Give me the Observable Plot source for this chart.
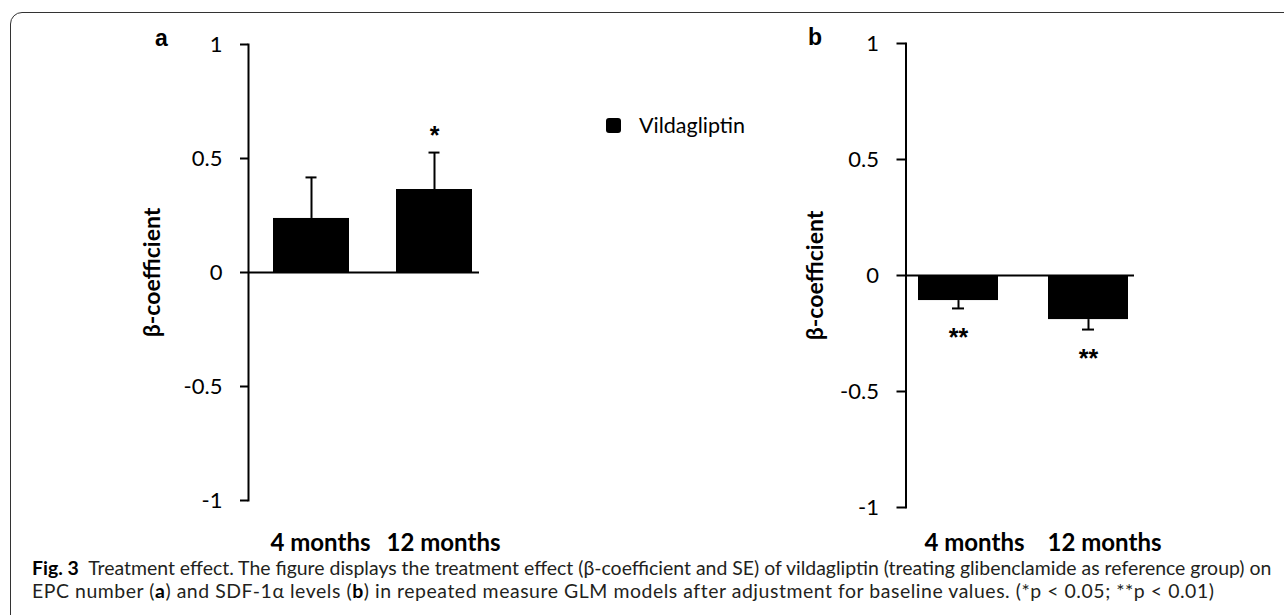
<!DOCTYPE html>
<html>
<head>
<meta charset="utf-8">
<script src="https://cdn.jsdelivr.net/npm/d3@7"></script>
<script src="https://cdn.jsdelivr.net/npm/@observablehq/plot@0.6"></script>
<style>
  html, body { margin: 0; padding: 0; background: #fff; }
  #page { position: relative; width: 1284px; height: 615px; overflow: hidden; background: #fff; }
  #border { position: absolute; left: 10px; top: 12px; width: 1300px; height: 640px;
            border: 1.4px solid #333; border-radius: 12px; box-sizing: border-box; }
  .panel { position: absolute; top: 0; }
  .letter { position: absolute; font-family: "Liberation Sans", Arial, sans-serif; font-weight: bold;
            font-size: 23px; line-height: 23px; color: #000; }
  #legend { position: absolute; left: 606px; top: 115px; height: 21px; font-family: Lato, sans-serif;
            font-size: 21.5px; line-height: 21px; color: #000; white-space: nowrap; }
  #legend .sw { position: absolute; left: 0; top: 3px; width: 15px; height: 15px; background: #000; border-radius: 3px; }
  #legend .lb { position: absolute; left: 33px; top: 0; }
  .cap { position: absolute; left: 32px; font-family: Lato, sans-serif; font-size: 16.5px; line-height: 22px;
         height: 22px; color: #231f20; white-space: nowrap; }
  .cap b { font-weight: bold; color: #000; }
</style>
</head>
<body>
<div id="page">
  <div id="border"></div>
  <div id="panelA" class="panel" style="left:0px"></div>
  <div id="panelB" class="panel" style="left:660px"></div>
  <div id="letterA" class="letter" style="left:155px; top:27px"></div>
  <div id="letterB" class="letter" style="left:808px; top:26px"></div>
  <div id="legend"><div class="sw"></div><div class="lb"></div></div>
  <div id="cap1" class="cap" style="top:557px"></div>
  <div id="cap2" class="cap" style="top:580px"></div>
</div>
<script>
// ---- data ----
const categories = ["4 months", "12 months"];
const epcBeta = [0.237, 0.364];      // panel a: EPC number
const epcSE   = [0.18, 0.162];
const epcSig  = ["", "*"];
const sdfBeta = [-0.108, -0.19];     // panel b: SDF-1α levels
const sdfSE   = [0.034, 0.043];
const sdfSig  = ["**", "**"];
const yTicks  = [-1, -0.5, 0, 0.5, 1];
const yDomain = [-1, 1];
const seriesName = "Vildagliptin";
const panelLetters = ["a", "b"];
const yLabel = "β-coefficient";
const captionLine1 = ["Fig. 3", "Treatment effect. The figure displays the treatment effect (β-coefficient and SE) of vildagliptin (treating glibenclamide as reference group) on"];
const captionLine2 = "EPC number (<b>a</b>) and SDF-1α levels (<b>b</b>) in repeated measure GLM models after adjustment for baseline values. (*p &lt; 0.05; **p &lt; 0.01)";

function makePanel(values, ses, sigs, cfg) {
  const rows = categories.map((c, i) => ({cat: c, value: values[i], se: ses[i], sig: sigs[i]}));
  const errEnd = d => d.value + Math.sign(d.value) * d.se;
  const starPos = d => d.value + Math.sign(d.value) * (d.se + 0.1);
  return Plot.plot({
    width: cfg.width, height: cfg.height,
    marginLeft: cfg.ml, marginRight: cfg.mr, marginTop: cfg.mt, marginBottom: cfg.mb,
    style: {fontFamily: "Lato, sans-serif", fontSize: "22px", color: "#000", background: "transparent", overflow: "visible"},
    x: {domain: categories, paddingInner: cfg.pi, paddingOuter: cfg.po, align: cfg.align, label: null},
    y: {domain: yDomain, label: null},
    marks: [
      Plot.barY(rows, {x: "cat", y: "value", fill: "#000"}),
      Plot.ruleX(rows, {x: "cat", y1: "value", y2: errEnd, stroke: "#000", strokeWidth: 2}),
      Plot.tickY(rows, {x: "cat", y: errEnd, stroke: "#000", strokeWidth: 2, insetLeft: cfg.capInset, insetRight: cfg.capInset}),
      Plot.ruleY([0], {stroke: "#000", strokeWidth: 2}),
      Plot.frame({anchor: "left", stroke: "#000", strokeWidth: 2}),
      Plot.axisY({ticks: yTicks, tickSize: cfg.tickSize, tickPadding: 18, strokeWidth: 2, fontSize: 22,
                  tickFormat: d => d.toString(), label: null}),
      Plot.axisX({tickSize: 0, tickPadding: cfg.xPad, fontSize: 24, fontWeight: "bold", dx: cfg.xdx, label: null}),
      Plot.text([yLabel], {frameAnchor: "left", textAnchor: "middle", rotate: -90, dx: cfg.ylDx, fontSize: 23, fontWeight: "bold"}),
      Plot.text(rows.filter(d => d.sig), {x: "cat", y: starPos, text: "sig", fontSize: 25, fontWeight: "bold",
                  fontFamily: "Liberation Sans, Arial, sans-serif", dy: 6})
    ]
  });
}

document.getElementById("panelA").appendChild(makePanel(epcBeta, epcSE, epcSig, {
  width: 490, height: 570, ml: 248, mr: 11, mt: 44, mb: 70,
  pi: 0.379, po: 0.121, align: 0.8, capInset: 32.5, tickSize: 8, xPad: 33, xdx: 9, ylDx: -96
}));
document.getElementById("panelB").appendChild(makePanel(sdfBeta, sdfSE, sdfSig, {
  width: 490, height: 570, ml: 245.5, mr: 16, mt: 43, mb: 63,
  pi: 0.383, po: 0.067, align: 0.71, capInset: 34, tickSize: 9, xPad: 26.5, xdx: 16, ylDx: -90.5
}));

document.getElementById("letterA").textContent = panelLetters[0];
document.getElementById("letterB").textContent = panelLetters[1];
document.querySelector("#legend .lb").textContent = seriesName;

const c1 = document.getElementById("cap1");
c1.innerHTML = "<b>" + captionLine1[0] + "</b>&nbsp;&nbsp;" + captionLine1[1];
const c2 = document.getElementById("cap2");
c2.innerHTML = captionLine2;
// fit caption lines to the reference widths (line 1: 32 → 1272, line 2: 32 → 1214)
const w1 = c1.getBoundingClientRect().width;
const fs = 16.5 * 1240 / w1;
c1.style.fontSize = fs + "px";
c2.style.fontSize = fs + "px";
const w2 = c2.getBoundingClientRect().width;
c2.style.letterSpacing = ((1182 - w2) / c2.textContent.length) + "px";
</script>
</body>
</html>
